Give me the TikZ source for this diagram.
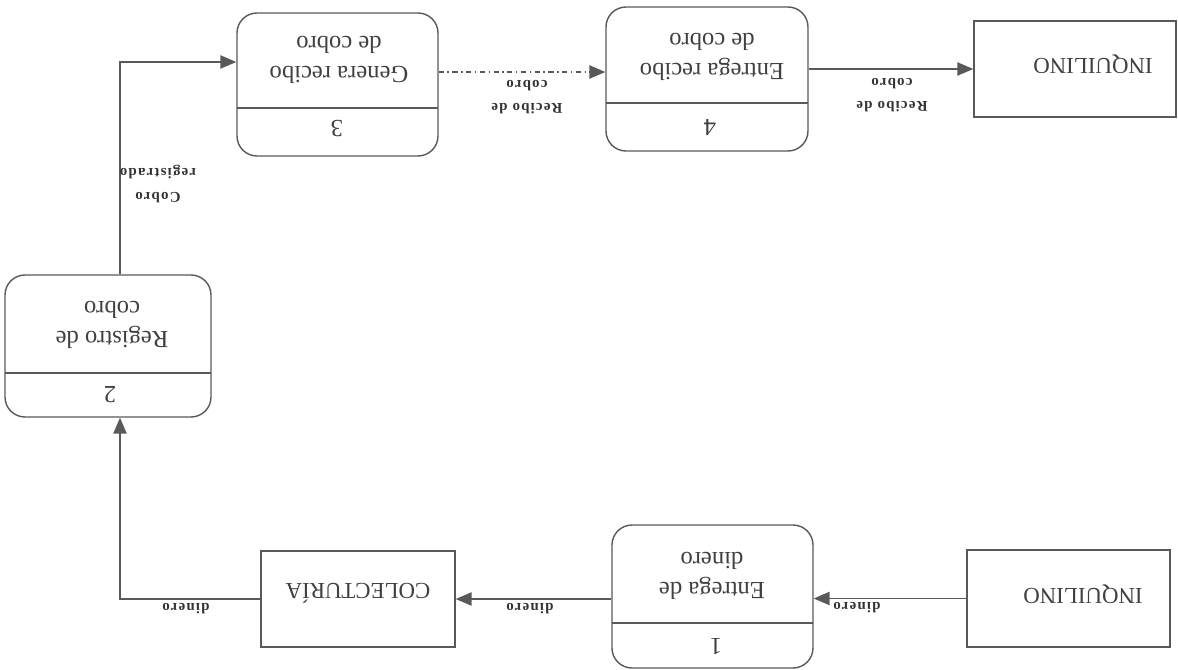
\documentclass[tikz,border=0pt]{standalone}
\usepackage{fontspec}
\setmainfont{Liberation Serif}
\usetikzlibrary{arrows.meta,fit}
\begin{document}
\begin{tikzpicture}[x=0.02cm,y=-0.02cm,
  line/.style={draw=black!65, line width=0.8pt},
  procbox/.style={line, rounded corners=0.4cm, inner sep=0pt},
  entbox/.style={line, inner sep=0pt},
  arr/.style={line, -{Triangle[length=9pt,width=7.5pt]}},
  maintxt/.style={rotate=180, align=center, text=black!75, font=\fontsize{14}{17.5}\selectfont, inner sep=0pt},
  enttxt/.style={rotate=180, align=center, text=black!75, font=\fontsize{13}{16}\selectfont, inner sep=0pt},
  lbl/.style={rotate=180, align=center, text=black!80, font=\fontsize{8.5}{13.5}\selectfont\bfseries\addfontfeatures{LetterSpace=8}, inner sep=0pt},
]
\useasboundingbox (0,0) rectangle (1178,670);

% external entities
\node[entbox, fit={(974,21)(1176,117)}] (inq1) {};
\node[enttxt] (inq1t) at (1093,64) {INQUILINO};
\node[entbox, fit={(967,550)(1170,647)}] (inq2) {};
\node[enttxt] (inq2t) at (1083,594) {INQUILINO};
\node[entbox, fit={(261,551)(455,647)}] (col) {};
\node[enttxt] (colt) at (358,593) {COLECTURÍA};

% processes
\node[procbox, fit={(612,525)(813,668)}] (p1) {};
\draw[line] (612,623) -- (813,623);
\node[maintxt] (p1n) at (716,647) {1};
\node[maintxt] (p1t) at (712,576) {Entrega de\\dinero};

\node[procbox, fit={(5,275)(211,417)}] (p2) {};
\draw[line] (5,373) -- (211,373);
\node[maintxt] (p2n) at (110,395) {2};
\node[maintxt] (p2t) at (112,325) {Registro de\\cobro};

\node[procbox, fit={(237,13)(438,156)}] (p3) {};
\draw[line] (237,108) -- (438,108);
\node[maintxt] (p3n) at (337,129) {3};
\node[maintxt] (p3t) at (339,60) {Genera recibo\\de cobro};

\node[procbox, fit={(606,7)(808,151)}] (p4) {};
\draw[line] (606,103) -- (808,103);
\node[maintxt] (p4n) at (710,128) {4};
\node[maintxt] (p4t) at (712,57) {Entrega recibo\\de cobro};

% bend points
\coordinate (c1) at (120,599);
\coordinate (c2) at (120,62);

% flows
\draw[arr] (inq2.west) -- (inq2.west -| p1.east);
\node[lbl] (l1) at (857,608) {dinero};

\draw[arr] (p1.west |- col.east) -- (col.east);
\node[lbl] (l2) at (530,609) {dinero};

\draw[arr] (col.west) -- (c1) -- (c1 |- p2.south);
\node[lbl] (l3) at (186,609) {dinero};

\draw[arr] (c1 |- p2.north) -- (c2) -- (c2 -| p3.west);
\node[lbl] (l4) at (158,184) {Cobro\\registrado};

\draw[arr, dash dot] ([yshift=0.25cm]p3.east) -- ([yshift=0.25cm]p3.east -| p4.west);
\node[lbl] (l5) at (527,97) {Recibo de\\cobro};

\draw[arr] (p4.east |- inq1.west) -- (inq1.west);
\node[lbl] (l6) at (892,95) {Recibo de\\cobro};
\end{tikzpicture}
\end{document}
